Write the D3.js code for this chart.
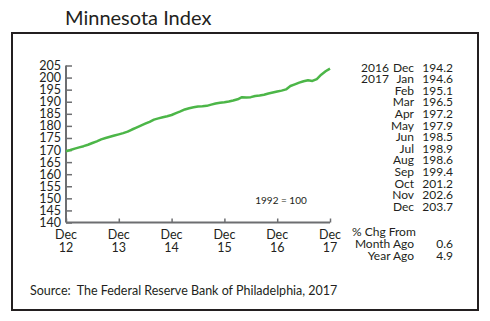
<!DOCTYPE html>
<html>
<head>
<meta charset="utf-8">
<script src="https://cdn.jsdelivr.net/npm/d3@7"></script>
<style>
  body { margin: 0; background: #fff; }
  text { font-family: Lato, sans-serif; fill: #231f20; }
</style>
</head>
<body>
<svg id="chart" width="490" height="321"></svg>
<script>
// monthly index, Dec 2012 .. Dec 2017
let index_values = [
  169.5, 170.0, 170.6, 171.1, 171.6, 172.2, 172.9, 173.6, 174.4, 175.0, 175.5, 176.0,
  176.5, 177.0, 177.6, 178.5, 179.3, 180.1, 180.9, 181.7, 182.6, 183.1, 183.6, 184.0,
  184.5, 185.3, 186.0, 186.8, 187.3, 187.7, 188.0, 188.1, 188.3, 188.8, 189.3, 189.6,
  189.8, 190.1, 190.5, 191.0, 191.9, 191.8, 191.9, 192.4, 192.6, 192.9, 193.4, 193.8,
  194.2, 194.6, 195.1, 196.5, 197.2, 197.9, 198.5, 198.9, 198.6, 199.4, 201.2, 202.6, 203.7
]
let x_tick_months = ["Dec", "Dec", "Dec", "Dec", "Dec", "Dec"]
let x_tick_years = ["12", "13", "14", "15", "16", "17"]
let y_ticks = [140, 145, 150, 155, 160, 165, 170, 175, 180, 185, 190, 195, 200, 205]

let table_years = ["2016", "2017", "", "", "", "", "", "", "", "", "", "", ""]
let table_months = ["Dec", "Jan", "Feb", "Mar", "Apr", "May", "Jun", "Jul", "Aug", "Sep", "Oct", "Nov", "Dec"]
let table_values = ["194.2", "194.6", "195.1", "196.5", "197.2", "197.9", "198.5", "198.9", "198.6", "199.4", "201.2", "202.6", "203.7"]
let chg_labels = ["Month Ago", "Year Ago"]
let chg_values = ["0.6", "4.9"]

let svg = d3.select("#chart")

// frame
svg.append("rect")
   .attr("x", 12)
   .attr("y", 33)
   .attr("width", 466)
   .attr("height", 277)
   .attr("fill", "none")
   .attr("stroke", "#231f20")
   .attr("stroke-width", 2)

svg.append("text")
   .attr("x", 65)
   .attr("y", 25)
   .attr("font-size", 20)
   .text("Minnesota Index")

let x = d3.scaleLinear().domain([0, 60]).range([66, 330])
let y = d3.scaleLinear().domain([140, 205]).range([222.5, 65.5])

let axis_color = "#6d6e71"

// y axis with inward ticks
let y_axis = svg.append("g")
   .attr("transform", "translate(66,0)")
   .call(d3.axisRight(y).tickValues(y_ticks).tickSize(6).tickFormat(""))
y_axis.select(".domain").attr("stroke", axis_color).attr("stroke-width", 2).attr("d", "M0," + y(140) + "V" + y(205))
y_axis.selectAll(".tick line").attr("stroke", axis_color).attr("stroke-width", 1.5)

svg.append("g").selectAll("text")
   .data(y_ticks)
   .join("text")
   .attr("x", 61)
   .attr("y", d => y(d) + 4.5)
   .attr("text-anchor", "end")
   .attr("font-size", 12.5)
   .text(d => d)

// x axis, one tick per year
let x_ticks = d3.range(0, 61, 12)
let x_axis = svg.append("g")
   .attr("transform", "translate(0," + y(140) + ")")
   .call(d3.axisTop(x).tickValues(x_ticks).tickSize(4).tickFormat(""))
x_axis.select(".domain").attr("stroke", axis_color).attr("stroke-width", 2).attr("d", "M" + x(0) + ",0H" + x(60))
x_axis.selectAll(".tick line").attr("stroke", axis_color).attr("stroke-width", 1.5)

let x_labels = svg.append("g").selectAll("text")
   .data(x_ticks)
   .join("text")
   .attr("x", d => x(d))
   .attr("text-anchor", "middle")
   .attr("font-size", 12.5)
x_labels.append("tspan").attr("x", d => x(d)).attr("y", 239).text((d, i) => x_tick_months[i])
x_labels.append("tspan").attr("x", d => x(d)).attr("y", 252).text((d, i) => x_tick_years[i])

// index line
let line = d3.line()
   .x((d, i) => x(i))
   .y(d => y(d))
svg.append("path")
   .datum(index_values)
   .attr("d", line)
   .attr("fill", "none")
   .attr("stroke", "#4cb648")
   .attr("stroke-width", 2.5)
   .attr("stroke-linejoin", "round")

svg.append("text")
   .attr("x", 281)
   .attr("y", 204)
   .attr("text-anchor", "middle")
   .attr("font-size", 10)
   .text("1992 = 100")

// table of recent values
let row_y = d => 71.5 + d * 11.6
let table = svg.append("g").attr("font-size", 12)
table.selectAll(".yr").data(table_years).join("text")
   .attr("class", "yr").attr("x", 361).attr("y", (d, i) => row_y(i)).text(d => d)
table.selectAll(".mo").data(table_months).join("text")
   .attr("class", "mo").attr("x", 414).attr("y", (d, i) => row_y(i)).attr("text-anchor", "end").text(d => d)
table.selectAll(".val").data(table_values).join("text")
   .attr("class", "val").attr("x", 453).attr("y", (d, i) => row_y(i)).attr("text-anchor", "end").text(d => d)

table.append("text").attr("x", 352).attr("y", 236).text("% Chg From")
table.selectAll(".chg").data(chg_labels).join("text")
   .attr("class", "chg").attr("x", 414).attr("y", (d, i) => 248 + i * 11.6).attr("text-anchor", "end").text(d => d)
table.selectAll(".chgv").data(chg_values).join("text")
   .attr("class", "chgv").attr("x", 453).attr("y", (d, i) => 248 + i * 11.6).attr("text-anchor", "end").text(d => d)

svg.append("text")
   .attr("x", 30)
   .attr("y", 295)
   .attr("font-size", 12.5)
   .attr("xml:space", "preserve")
   .text("Source:  The Federal Reserve Bank of Philadelphia, 2017")
</script>
</body>
</html>
